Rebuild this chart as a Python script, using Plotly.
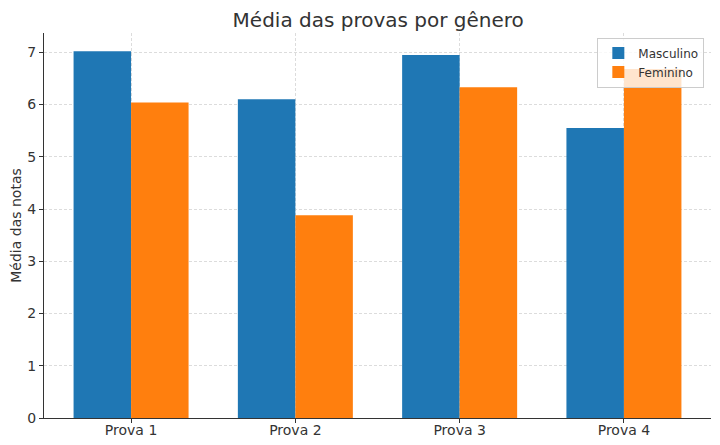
import plotly.graph_objects as go

provas = ["Prova 1", "Prova 2", "Prova 3", "Prova 4"]
masculino = [7.02, 6.10, 6.95, 5.55]
feminino = [6.04, 3.88, 6.33, 6.68]

azul = "#1f77b4"
laranja = "#ff7f0e"
cinza = "#333333"

fig = go.Figure()
fig.add_trace(go.Bar(x=provas, y=masculino, name="Masculino",
                     marker=dict(color=azul, line=dict(width=0))))
fig.add_trace(go.Bar(x=provas, y=feminino, name="Feminino",
                     marker=dict(color=laranja, line=dict(width=0))))

# a página tem 8px de margem no body, por isso a figura fica um pouco menor
fig.update_layout(
    width=712, height=437,
    margin=dict(l=36, r=9, t=25, b=27, autoexpand=False),
    barmode="group", bargap=0.3, bargroupgap=0,
    plot_bgcolor="white", paper_bgcolor="white",
    font=dict(family="DejaVu Sans", size=14, color=cinza),
    title=dict(text="Média das provas por gênero", x=0.52, xanchor="center",
               y=0.972, yanchor="middle", font=dict(size=20, color=cinza)),
    legend=dict(x=0.99, y=0.988, xanchor="right", yanchor="top",
                bgcolor="rgba(255,255,255,0.8)", bordercolor="#cccccc",
                borderwidth=1, font=dict(size=12, color=cinza),
                tracegroupgap=0, itemwidth=30),
    showlegend=True,
)

fig.update_xaxes(
    range=[-0.53, 3.53], automargin=False,
    showgrid=True, gridcolor="#dcdcdc", griddash="3px,2px", gridwidth=0.8,
    showline=True, linecolor=cinza, linewidth=1,
    ticks="outside", ticklen=4, tickcolor=cinza,
    ticklabelstandoff=-5,
    tickfont=dict(size=14, color=cinza),
)
fig.update_yaxes(
    range=[0, 7.37], automargin=False,
    dtick=1,
    title=dict(text="Média das notas", font=dict(size=14, color=cinza), standoff=12),
    showgrid=True, gridcolor="#dcdcdc", griddash="3px,2px", gridwidth=0.8,
    zeroline=False,
    showline=True, linecolor=cinza, linewidth=1,
    ticks="outside", ticklen=4, tickcolor=cinza,
    tickfont=dict(size=14, color=cinza),
)

fig.write_html("out.html")
